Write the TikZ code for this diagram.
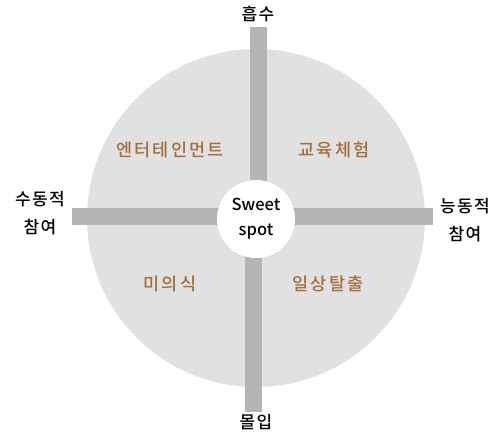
\documentclass[tikz,border=0pt]{standalone}
\usepackage{fontspec}
\setmainfont{Noto Sans CJK KR Medium}
\newfontfamily\widefont[LetterSpace=13]{Noto Sans CJK KR Medium}
\newfontfamily\axisfont[LetterSpace=8]{Noto Sans CJK KR Medium}
\usepackage{tikz}
\usetikzlibrary{positioning}
\definecolor{disc}{HTML}{E1E1E1}
\definecolor{bargray}{HTML}{B4B4B4}
\definecolor{quadbrown}{HTML}{A0703C}
\tikzset{
    bar/.style = {draw=bargray, line width=16.5pt, line cap=butt},
    spotdot/.style = {fill=white, circle, inner sep=0pt, minimum size=78pt, align=center, font=\fontsize{16.5}{25}\selectfont},
    axis/.style = {align=center, font=\axisfont\fontsize{17}{28}\selectfont},
    quad/.style = {text=quadbrown, font=\widefont\fontsize{17.5}{20}\selectfont}
}
\begin{document}
\begin{tikzpicture}[x=1pt, y=-1pt]
        \useasboundingbox (0, 0) rectangle (498, 436);
        \coordinate (O) at (256, 218);
        \path[fill=disc] (O) circle (169);
        \coordinate (topend) at (258.5, 27);
        \coordinate (botend) at (253.5, 412);
        \coordinate (leftend) at (72, 216.5);
        \coordinate (rightend) at (433, 216.5);
        \path[bar] (O -| topend) -- (topend);
        \path[bar] (O -| botend) -- (botend);
        \path[bar] (O |- leftend) -- (leftend);
        \path[bar] (O |- rightend) -- (rightend);
        \node[spotdot] (spot) at (256, 219) {Sweet\\spot};
        \node[axis] (absorb) at (258, 14) {흡수};
        \node[axis] (immerse) at (256, 422) {몰입};
        \node[axis] (passive) at (40, 213) {수동적\\참여};
        \node[axis] (active) at (465, 220) {능동적\\참여};
        \node[quad] (ent) at (170, 150) {엔터테인먼트};
        \node[quad] (edu) at (334, 150) {교육체험};
        \node[quad] (aes) at (170, 284) {미의식};
        \node[quad] (esc) at (328, 284) {일상탈출};
    \end{tikzpicture}
\end{document}
